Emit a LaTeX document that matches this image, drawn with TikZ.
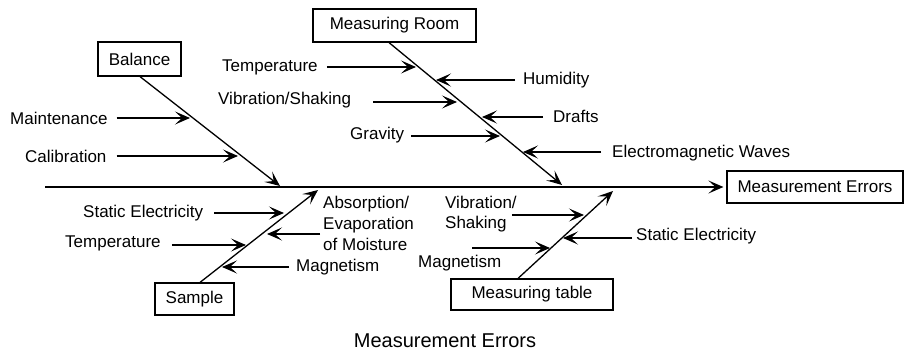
\documentclass[tikz,border=0pt]{standalone}
\usepackage{fontspec}
\setmainfont{Liberation Sans}
\usetikzlibrary{arrows.meta,calc}
\begin{document}
\begin{tikzpicture}[x=1pt,y=-1pt,
  lab/.style={inner sep=0pt,anchor=west,font=\fontsize{17}{20}\selectfont},
  box/.style={draw,line width=1.2pt,inner sep=0pt,font=\fontsize{17}{20}\selectfont},
  arr/.style={line width=1.3pt,-{Stealth[length=15pt,width=13pt,inset=7pt]}},
  bone/.style={line width=1.3pt,-{Stealth[length=15pt,width=13pt,inset=7pt]}}]
\useasboundingbox (0,0) rectangle (904,352);
% boxes
\node[box,minimum width=83pt,minimum height=34pt] (bal) at (139.5,59) {Balance};
\node[box,minimum width=163pt,minimum height=33pt] (room) at (394.5,25.5) {Measuring Room};
\node[box,minimum width=79pt,minimum height=32pt] (sam) at (194.5,299) {Sample};
\node[box,minimum width=162pt,minimum height=31pt] (tab) at (532,294.5) {Measuring table};
\node[box,minimum width=176pt,minimum height=32pt] (me) at (815,187) {Measurement Errors};
% spine
\coordinate (s0) at (45,187);
\draw[bone,shorten >=3pt] (s0) -- (me.west);
% bone tips
\coordinate (tb) at (280,186);
\coordinate (tr) at (562,185);
\coordinate (ts) at (318,190);
\coordinate (tt) at (613,191);
\draw[bone] ([xshift=0.5pt]bal.south) -- (tb);
\draw[bone] ([xshift=-5.5pt]room.south) -- (tr);
\draw[bone] ([xshift=5.5pt]sam.north) -- (ts);
\draw[bone] ([xshift=-14pt]tab.north) -- (tt);
% Balance causes
\node[lab] (l1) at (10,118) {Maintenance};
\node[lab] (l2) at (25,156) {Calibration};
\coordinate (p1) at (190,118);
\coordinate (p2) at (238,156);
\draw[arr] ($(l1.east |- p1)+(9,0)$) -- (p1);
\draw[arr] ($(l2.east |- p2)+(10,0)$) -- (p2);
% Measuring room causes
\node[lab] (r1) at (222,67) {Temperature};
\node[lab] (r2) at (523,80) {Humidity};
\node[lab] (r3) at (218,100) {Vibration/Shaking};
\node[lab] (r4) at (553,116) {Drafts};
\node[lab] (r5) at (350,135) {Gravity};
\node[lab] (r6) at (612,153) {Electromagnetic Waves};
\coordinate (q1) at (416,67);
\coordinate (q2) at (436,80);
\coordinate (q3) at (457,102);
\coordinate (q4) at (482,117);
\coordinate (q5) at (500,136);
\coordinate (q6) at (523,152);
\draw[arr] ($(r1.east |- q1)+(9,0)$) -- (q1);
\draw[arr] ($(r2.west |- q2)+(-8,0)$) -- (q2);
\draw[arr] ($(r3.east |- q3)+(22,0)$) -- (q3);
\draw[arr] ($(r4.west |- q4)+(-10,0)$) -- (q4);
\draw[arr] ($(r5.east |- q5)+(7,0)$) -- (q5);
\draw[arr] ($(r6.west |- q6)+(-11,0)$) -- (q6);
% Sample causes
\node[lab] (s1) at (83,213) {Static Electricity};
\node[lab] (s2) at (65,243) {Temperature};
\node[lab,align=left,font=\fontsize{17}{21}\selectfont] (s3) at (323,223) {Absorption/\\Evaporation\\of Moisture};
\node[lab] (s4) at (296,267) {Magnetism};
\coordinate (u1) at (284,213);
\coordinate (u2) at (246,245);
\coordinate (u3) at (267,234);
\coordinate (u4) at (222,267);
\draw[arr] ($(s1.east |- u1)+(11,0)$) -- (u1);
\draw[arr] ($(s2.east |- u2)+(11,0)$) -- (u2);
\draw[arr] ($(s3.west |- u3)+(-3,0)$) -- (u3);
\draw[arr] ($(s4.west |- u4)+(-7,0)$) -- (u4);
% Measuring table causes
\node[lab,align=left] (t1) at (445,214) {Vibration/\\Shaking};
\node[lab] (t2) at (418,263) {Magnetism};
\node[lab] (t3) at (636,236) {Static Electricity};
\coordinate (v1) at (584,215);
\coordinate (v2) at (550,248);
\coordinate (v3) at (563,238);
\coordinate (w2) at (472,248);
\draw[arr] ($(t1.east |- v1)+(-5,0)$) -- (v1);
\draw[arr] (w2) -- (v2);
\draw[arr] ($(t3.west |- v3)+(-4,0)$) -- (v3);
% caption
\node[inner sep=0pt,font=\fontsize{20}{24}\selectfont] (cap) at (445,341) {Measurement Errors};
\end{tikzpicture}
\end{document}
